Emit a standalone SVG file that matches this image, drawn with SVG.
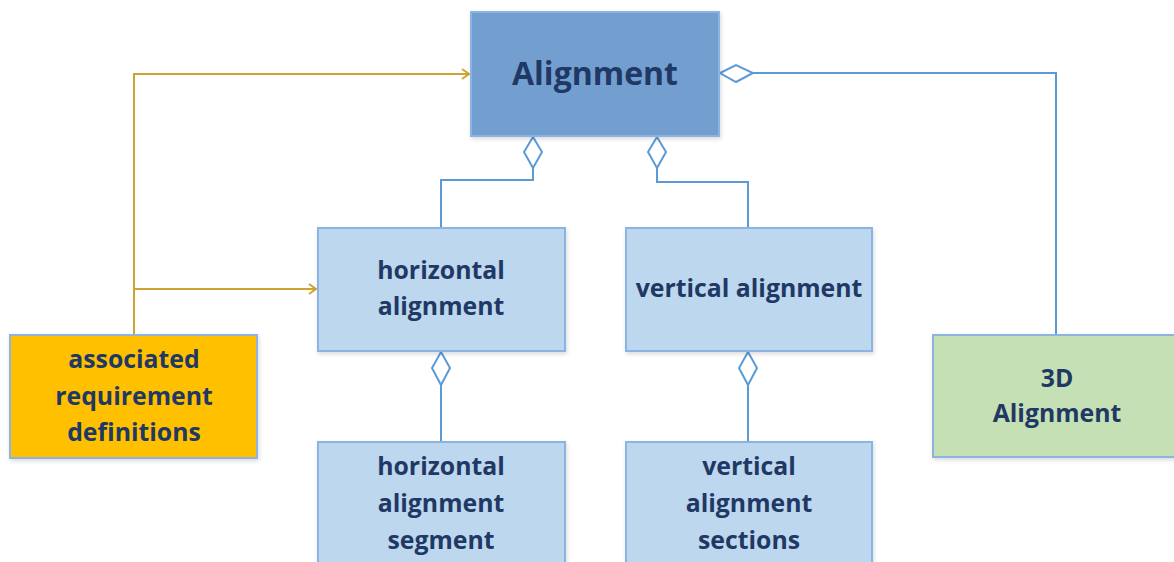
<svg xmlns="http://www.w3.org/2000/svg" width="1174" height="562" viewBox="0 0 1174 562">
<style>
.box{stroke:#8DB3E2;stroke-width:2;filter:url(#sh)}
.t{font-family:"Open Sans","Liberation Sans",sans-serif;font-weight:bold;fill:#1F3864;text-anchor:middle;font-size:24.8px}
.blue{fill:none;stroke:#5B9BD5;stroke-width:2}
.gold{fill:none;stroke:#CDA434;stroke-width:2}
.dia{fill:#fff;stroke:#5B9BD5;stroke-width:2}
</style>
<defs>
<filter id="sh" x="-10%" y="-10%" width="130%" height="130%">
<feDropShadow dx="1" dy="2" stdDeviation="2" flood-color="#000" flood-opacity="0.15"/>
</filter>
<marker id="arr" markerWidth="12" markerHeight="12" refX="10" refY="6" orient="auto" markerUnits="userSpaceOnUse">
<path d="M3,1 L10,6 L3,11" fill="none" stroke="#CDA434" stroke-width="2"/>
</marker>
</defs>
<g id="connectors">
<path class="gold" d="M134,335 V74 H469" marker-end="url(#arr)"/>
<path class="gold" d="M134,289 H316" marker-end="url(#arr)"/>
<path class="blue" d="M533,168 V180 H441 V228"/>
<path class="blue" d="M657,168 V182 H748 V228"/>
<path class="blue" d="M753,73 H1056 V335"/>
<path class="blue" d="M441,385 V442"/>
<path class="blue" d="M748,385 V442"/>
<path class="dia" d="M533,137 L542,152 L533,168 L524,152 Z"/>
<path class="dia" d="M657,137 L666,152 L657,168 L648,152 Z"/>
<path class="dia" d="M720,73 L736,65 L753,73 L736,82 Z"/>
<path class="dia" d="M441,352 L450,368 L441,385 L432,368 Z"/>
<path class="dia" d="M748,352 L757,368 L748,385 L739,368 Z"/>
</g>
<g id="alignment">
<rect class="box" x="471" y="12" width="248" height="124" fill="#729FCF"/>
<text class="t" x="595" y="85" style="font-size:32px">Alignment</text>
</g>
<g id="horizontal-alignment">
<rect class="box" x="318" y="228" width="247" height="123" fill="#BDD7EE"/>
<text class="t" x="441" y="279">horizontal</text>
<text class="t" x="441" y="315">alignment</text>
</g>
<g id="vertical-alignment">
<rect class="box" x="626" y="228" width="246" height="123" fill="#BDD7EE"/>
<text class="t" x="749" y="297">vertical alignment</text>
</g>
<g id="associated-requirement-definitions">
<rect class="box" x="10" y="335" width="247" height="123" fill="#FFC000"/>
<text class="t" x="134" y="368">associated</text>
<text class="t" x="134" y="405">requirement</text>
<text class="t" x="134" y="441">definitions</text>
</g>
<g id="3d-alignment">
<rect class="box" x="933" y="335" width="250" height="122" fill="#C5E0B4"/>
<text class="t" x="1057" y="387">3D</text>
<text class="t" x="1057" y="422">Alignment</text>
</g>
<g id="horizontal-alignment-segment">
<rect class="box" x="318" y="442" width="247" height="130" fill="#BDD7EE"/>
<text class="t" x="441" y="475">horizontal</text>
<text class="t" x="441" y="512">alignment</text>
<text class="t" x="441" y="549">segment</text>
</g>
<g id="vertical-alignment-sections">
<rect class="box" x="626" y="442" width="246" height="130" fill="#BDD7EE"/>
<text class="t" x="749" y="475">vertical</text>
<text class="t" x="749" y="512">alignment</text>
<text class="t" x="749" y="549">sections</text>
</g>
</svg>
